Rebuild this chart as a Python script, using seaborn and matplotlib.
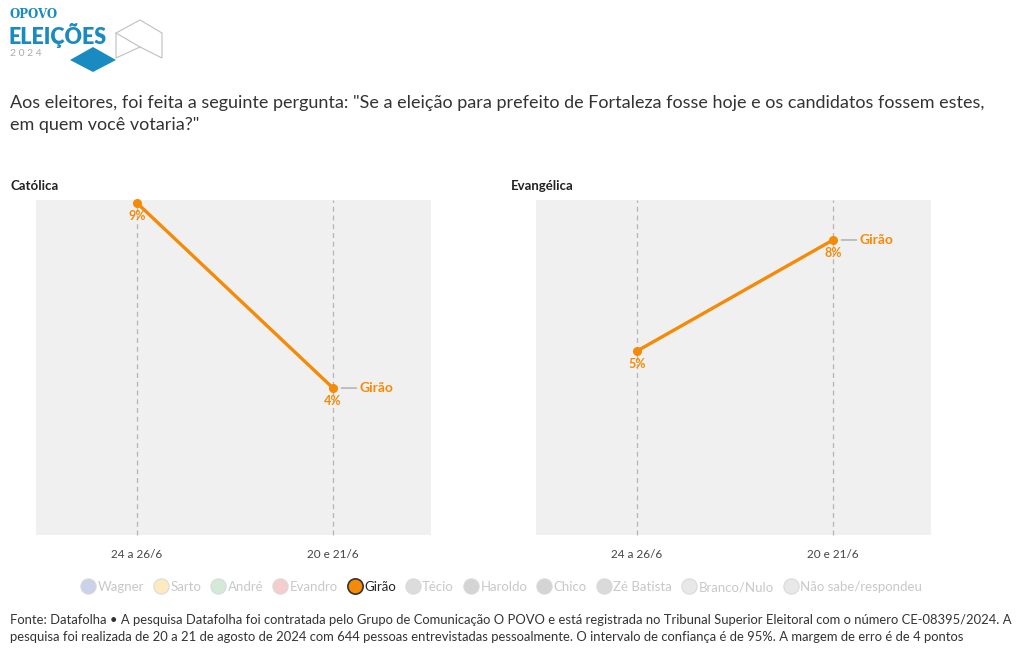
import matplotlib
matplotlib.use('Agg')
import matplotlib.pyplot as plt
from matplotlib.lines import Line2D
from matplotlib.patches import Polygon
import pandas as pd
import seaborn as sns

periods = ['24 a 26/6', '20 e 21/6']
panels = ['Católica', 'Evangélica']
girao_catolica = [9, 4]
girao_evangelica = [5, 8]
legend_names = ['Wagner', 'Sarto', 'André', 'Evandro', 'Girão', 'Técio', 'Haroldo',
                'Chico', 'Zé Batista', 'Branco/Nulo', 'Não sabe/respondeu']
legend_colors = ['#c5cce6', '#fde9b8', '#cfe8d3', '#f3c9c9', '#f58a07', '#d9d9d9',
                 '#d0d0d0', '#d0d0d0', '#d6d6d6', '#e6e6e6', '#e6e6e6']

orange = '#f58a07'

sns.set_theme(style='white')
plt.rcParams['font.family'] = ['Lato', 'DejaVu Sans']

df = pd.DataFrame({
    'panel': [panels[0]] * 2 + [panels[1]] * 2,
    'periodo': periods * 2,
    'x': [0, 1, 0, 1],
    'valor': girao_catolica + girao_evangelica,
})

fig = plt.figure(figsize=(10.2, 6.5), dpi=100)
W, H = 1020, 650

def px_axes(x0, y0, x1, y1):
    return fig.add_axes([x0 / W, 1 - y1 / H, (x1 - x0) / W, (y1 - y0) / H])

axes = [px_axes(36, 200, 431, 535), px_axes(536, 200, 931, 535)]
title_x = [11, 511]

for ax, name, tx in zip(axes, panels, title_x):
    sub = df[df['panel'] == name]
    ax.set_facecolor('#f0f0f0')
    for xv in sub['x']:
        ax.axvline(xv, color='#b5b5b5', lw=0.9, ls=(0, (4, 3)), zorder=1)
    sns.lineplot(data=sub, x='x', y='valor', ax=ax, color=orange, lw=2.4,
                 marker='o', markersize=6.5, markeredgewidth=0, zorder=3, legend=False)
    ax.set_xlim(-0.515, 1.5)
    ax.set_ylim(0.03, 9.08)
    ax.set_xticks(sub['x'].tolist())
    ax.set_xticklabels(sub['periodo'].tolist(), fontsize=8.5, color='#444444')
    ax.tick_params(axis='x', length=0, pad=10)
    ax.set_yticks([])
    ax.set_xlabel('')
    ax.set_ylabel('')
    for s in ax.spines.values():
        s.set_visible(False)
    for line in ax.lines:
        line.set_clip_on(False)
    for xv, yv in zip(sub['x'], sub['valor']):
        ax.annotate(f'{yv}%', (xv, yv), xytext=(0, -9.5), textcoords='offset points',
                    ha='center', va='center', fontsize=9, fontweight='bold', color=orange)
    lx, ly = sub['x'].iloc[-1], sub['valor'].iloc[-1]
    ax.annotate('', (lx, ly), xytext=(17, 0), textcoords='offset points',
                arrowprops=dict(arrowstyle='-', color='#aaaaaa', lw=1,
                                shrinkA=0, shrinkB=6))
    ax.annotate('Girão', (lx, ly), xytext=(19, 0), textcoords='offset points',
                ha='left', va='center', fontsize=10, fontweight='bold', color=orange)
    fig.text(tx / W, 1 - 186 / H, name, fontsize=9.5, fontweight='bold',
             color='#222222', va='center')

# logo
fig.text(10 / W, 1 - 15 / H, 'OPOVO', fontsize=8.5, fontweight='bold', color='#1a8bc0',
         va='center', family=['DejaVu Serif'])
fig.text(8 / W, 1 - 35 / H, 'ELEIÇÕES', fontsize=15.5, fontweight='heavy', color='#1a8bc0',
         va='center')
fig.text(10 / W, 1 - 53 / H, '2 0 2 4', fontsize=7.5, color='#aaaaaa', va='center')
def P(pts):
    return [(x / W, 1 - y / H) for x, y in pts]
fig.patches.append(Polygon(P([(70, 60), (93, 47), (116, 60), (93, 72)]), closed=True,
                           transform=fig.transFigure, facecolor='#1a8bc0', edgecolor='none'))
fig.patches.append(Polygon(P([(116, 33), (140, 20), (162, 33), (162, 58), (140, 47), (116, 58)]),
                           closed=True, transform=fig.transFigure, facecolor='none',
                           edgecolor='#c0c0c0', lw=0.8))
fig.lines.append(Line2D([116 / W, 140 / W], [1 - 33 / H, 1 - 47 / H],
                        transform=fig.transFigure, color='#c0c0c0', lw=0.8))

fig.text(10 / W, 1 - 103 / H,
         'Aos eleitores, foi feita a seguinte pergunta: "Se a eleição para prefeito de Fortaleza fosse hoje e os candidatos fossem estes,',
         fontsize=13.0, color='#333333', va='center')
fig.text(10 / W, 1 - 125 / H, 'em quem você votaria?"', fontsize=13.0, color='#333333', va='center')

handles = []
for n, c in zip(legend_names, legend_colors):
    if n == 'Girão':
        handles.append(Line2D([], [], marker='o', ls='', markersize=11, markerfacecolor=c,
                              markeredgecolor='#333333', markeredgewidth=1.2))
    else:
        handles.append(Line2D([], [], marker='o', ls='', markersize=11, markerfacecolor=c,
                              markeredgecolor='#d8d8d8', markeredgewidth=0.8, alpha=0.9))
leg = fig.legend(handles, legend_names, loc='center', bbox_to_anchor=(501 / W, 1 - 587 / H),
                 ncol=len(legend_names), frameon=False, fontsize=9.5, handletextpad=0.1,
                 columnspacing=0.7, handlelength=1.2)
for t, n in zip(leg.get_texts(), legend_names):
    t.set_color('#222222' if n == 'Girão' else '#c8c8c8')

fig.text(10 / W, 1 - 620 / H,
         'Fonte: Datafolha • A pesquisa Datafolha foi contratada pelo Grupo de Comunicação O POVO e está registrada no Tribunal Superior Eleitoral com o número CE-08395/2024. A',
         fontsize=9.4, color='#333333', va='center')
fig.text(10 / W, 1 - 637 / H,
         'pesquisa foi realizada de 20 a 21 de agosto de 2024 com 644 pessoas entrevistadas pessoalmente. O intervalo de confiança é de 95%. A margem de erro é de 4 pontos',
         fontsize=9.4, color='#333333', va='center')

fig.savefig('out.png', dpi=100, facecolor='white')
